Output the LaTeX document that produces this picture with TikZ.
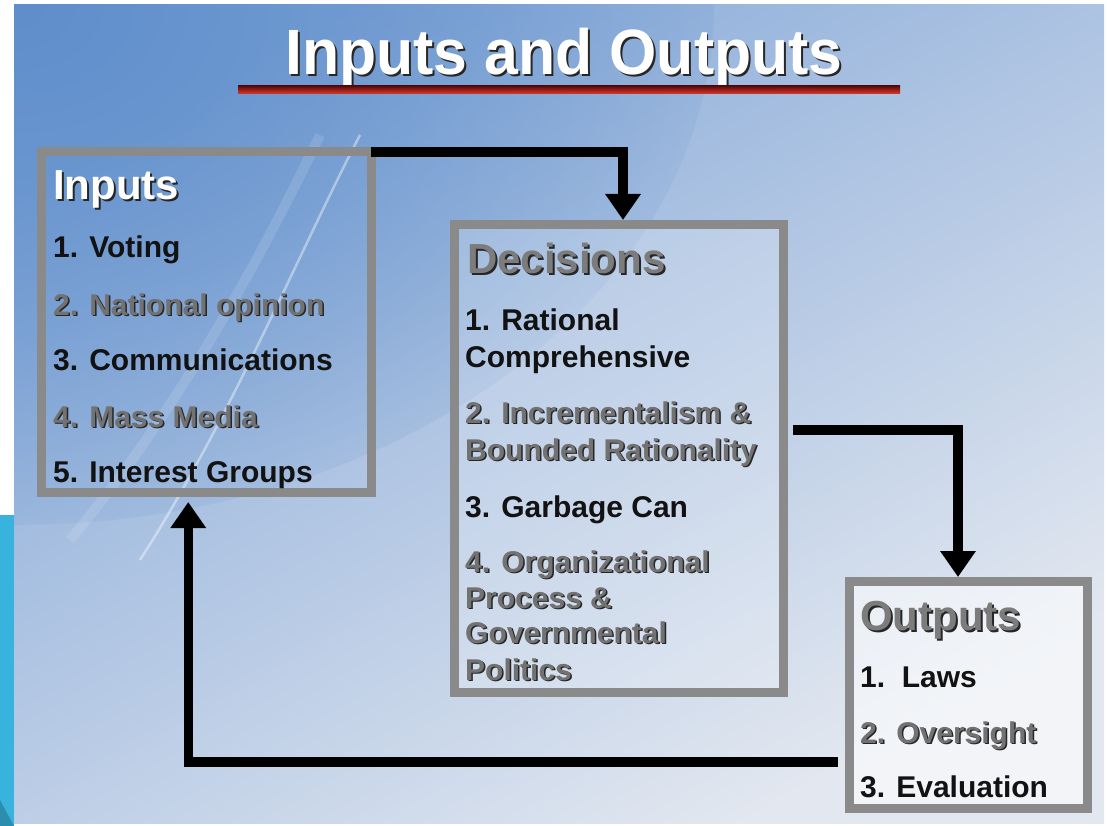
\documentclass[tikz,border=0pt]{standalone}
\usepackage{fontspec}
\setmainfont{Liberation Sans}
\usetikzlibrary{arrows.meta,fadings}
\definecolor{bgA}{HTML}{86A9D8}
\definecolor{bgB}{HTML}{CAD8EA}
\definecolor{bgC}{HTML}{E3E8F0}
\definecolor{bgBlue}{HTML}{5A8BCA}
\definecolor{bordergray}{HTML}{8A8A8A}
\definecolor{darktxt}{HTML}{121212}
\definecolor{graytxt}{HTML}{727272}
\definecolor{headgray}{HTML}{7C7C7C}
\definecolor{shadowc}{HTML}{262626}
\definecolor{cyanstrip}{HTML}{38B3DD}
\definecolor{tealtip}{HTML}{2C8DAF}
\definecolor{redA}{HTML}{5A0A0A}
\definecolor{redB}{HTML}{E03A2A}
\newcommand\emb[3]{\rlap{\hspace{#1}\raisebox{-#1}{\color{#2}#3}}{#3}}
\begin{tikzfadingfrompicture}[name=tlglow]
\shade[inner color=transparent!0,outer color=transparent!100] (0,0) circle (1cm);
\end{tikzfadingfrompicture}
\tikzset{
  box/.style={draw=bordergray, line width=9pt, rectangle, inner sep=0pt},
  arr/.style={draw=black, line width=9.5pt, -{Triangle[width=34pt,length=26pt]}},
  txt/.style={anchor=base west, inner sep=0pt, font=\bfseries\fontsize{30}{36}\selectfont},
  blk/.style={txt, text=darktxt},
  gry/.style={txt, text=graytxt},
  head/.style={anchor=base west, inner sep=0pt, font=\bfseries\fontsize{42}{48}\selectfont},
  title/.style={anchor=base, inner sep=0pt, text=white, font=\bfseries\fontsize{64}{70}\selectfont}
}
\begin{document}
\begin{tikzpicture}[x=1pt,y=-1pt]
\useasboundingbox (0,0) rectangle (1107,826);
\fill[white] (0,0) rectangle (1107,826);
% slide background
\begin{scope}
\clip (14,5) rectangle (1104,823);
\shade[top color=bgA, middle color=bgB, bottom color=bgC, shading angle=30] (14,5) rectangle (1104,823);
\fill[bgBlue, path fading=tlglow, fill opacity=0.9] (14,5) ellipse (700 and 520);
\draw[white, line width=2.5pt, opacity=0.4] (360,135) .. controls (300,250) and (230,420) .. (140,560);
\draw[white, line width=10pt, opacity=0.12] (320,135) .. controls (250,280) and (170,420) .. (70,540);
\end{scope}
% left strip
\fill[cyanstrip] (0,515) rectangle (14,826);
\fill[tealtip] (0,800) -- (14,826) -- (0,826) -- cycle;
% title
\node[title] (ttl) at (564,75) {\scalebox{0.95}[1]{\emb{2pt}{shadowc}{Inputs and Outputs}}};
\shade[top color=redA, bottom color=redB] (238,86) rectangle (900,94);
% boxes
\node[box, minimum width=329.5pt, minimum height=340.5pt] (inp) at (206.25,322.25) {};
\node[box, fill=white, fill opacity=0.2, minimum width=329pt, minimum height=468pt] (dec) at (619,458.5) {};
\node[box, fill=white, fill opacity=0.55, minimum width=238pt, minimum height=227pt] (out) at (968.5,695) {};
% inputs texts
\node[head, text=white] (ih) at (53,200) {\emb{2pt}{shadowc}{Inputs}};
\node[blk] (i1) at (53,258) {1. Voting};
\node[gry] (i2) at (53,315) {\emb{1.5pt}{shadowc}{2. National opinion}};
\node[blk] (i3) at (53,370) {3. Communications};
\node[gry] (i4) at (53,427) {\emb{1.5pt}{shadowc}{4. Mass Media}};
\node[blk] (i5) at (53,482) {5. Interest Groups};
% decisions texts
\node[head, text=headgray] (dh) at (467,273) {\emb{2pt}{shadowc}{Decisions}};
\node[blk] (d1a) at (465,330) {1. Rational};
\node[blk] (d1b) at (465,367) {Comprehensive};
\node[gry] (d2a) at (465,423) {\emb{1.5pt}{shadowc}{2. Incrementalism \&}};
\node[gry] (d2b) at (465,460) {\emb{1.5pt}{shadowc}{Bounded Rationality}};
\node[blk] (d3) at (465,517) {3. Garbage Can};
\node[gry] (d4a) at (465,572) {\emb{1.5pt}{shadowc}{4. Organizational}};
\node[gry] (d4b) at (465,608) {\emb{1.5pt}{shadowc}{Process \&}};
\node[gry] (d4c) at (465,643) {\emb{1.5pt}{shadowc}{Governmental}};
\node[gry] (d4d) at (465,680) {\emb{1.5pt}{shadowc}{Politics}};
% outputs texts
\node[head, text=headgray] (oh) at (860,630) {\emb{2pt}{shadowc}{Outputs}};
\node[blk] (o1) at (860,687) {1.\ \ Laws};
\node[gry] (o2) at (860,743) {\emb{1.5pt}{shadowc}{2. Oversight}};
\node[blk] (o3) at (860,797) {3. Evaluation};
% connectors
\draw[arr] ([shift={(-5,4.5)}]inp.north east) -| ([xshift=4pt]dec.north);
\draw[arr] ([shift={(5,-28.5)}]dec.east) -| ([xshift=-10.5pt]out.north);
\draw[arr] ([shift={(-7,67)}]out.west) -| ([shift={(-18,5)}]inp.south);
\end{tikzpicture}
\end{document}
